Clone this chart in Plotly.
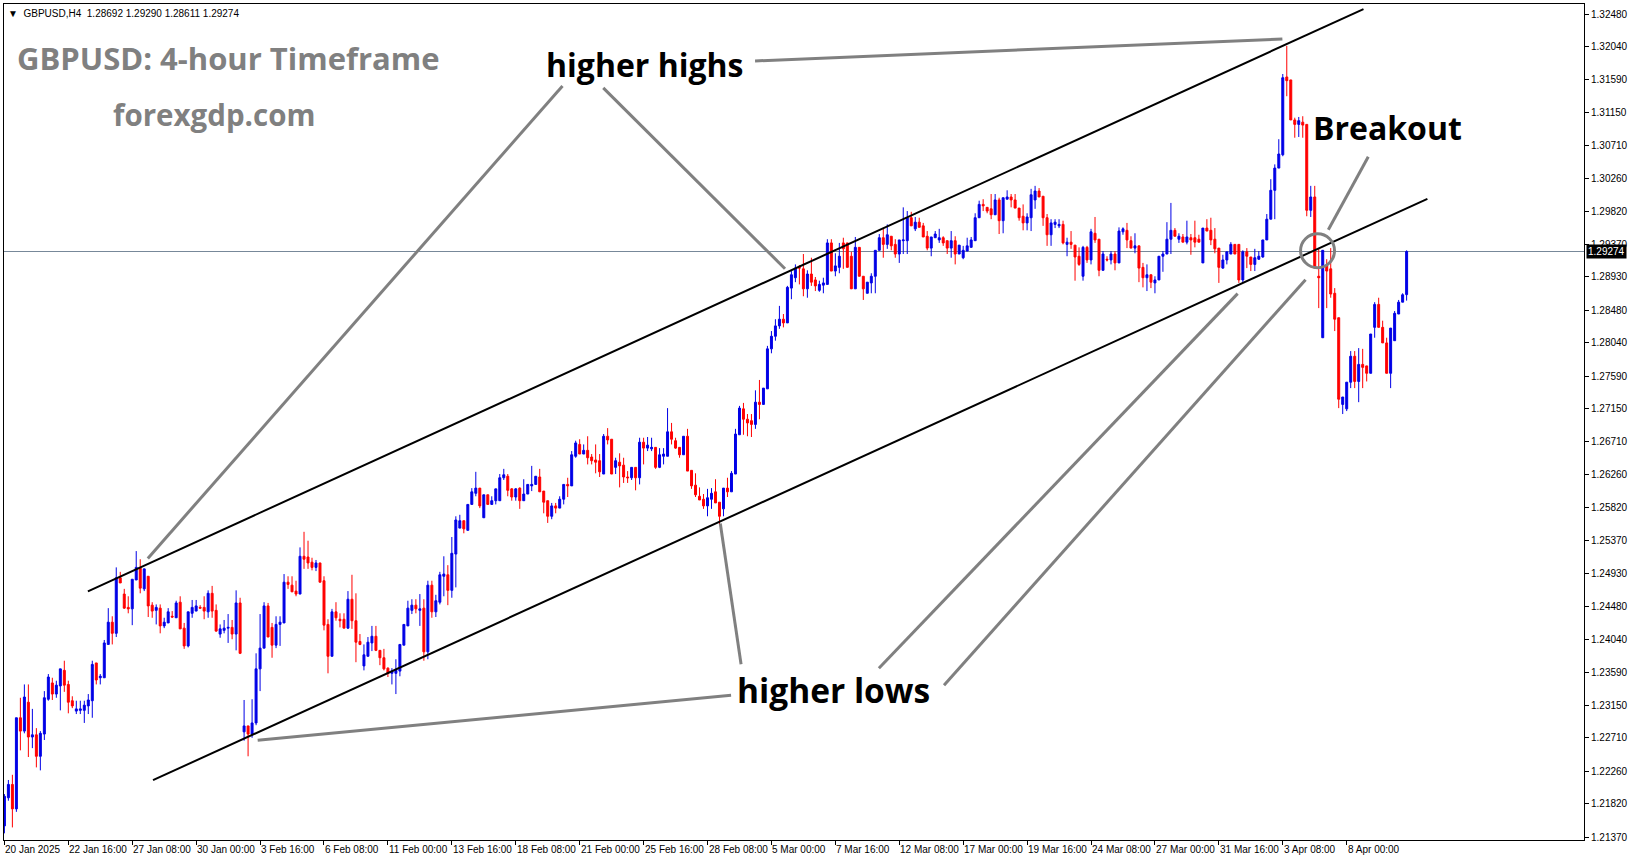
import plotly.graph_objects as go

# ---------------- data (GBPUSD H4) ----------------
open_ = [
1.2152,1.2190,1.2208,1.2175,1.2298,1.2280,1.2319,1.2272,1.2275,1.2246,
1.2276,1.2323,1.2345,1.2330,1.2341,1.2362,1.2343,1.2321,1.2307,1.2308,
1.2308,1.2314,1.2321,1.2372,1.2352,1.2352,1.2397,1.2427,1.2412,1.2487,
1.2465,1.2447,1.2445,1.2484,1.2500,1.2472,1.2489,1.2450,1.2443,1.2446,
1.2422,1.2426,1.2435,1.2433,1.2454,1.2419,1.2395,1.2439,1.2442,1.2447,
1.2447,1.2441,1.2466,1.2443,1.2411,1.2416,1.2419,1.2420,1.2411,1.2453,
1.2279,1.2287,1.2276,1.2291,1.2364,1.2392,1.2449,1.2420,1.2396,1.2424,
1.2426,1.2481,1.2477,1.2469,1.2465,1.2516,1.2515,1.2508,1.2501,1.2507,
1.2483,1.2424,1.2381,1.2441,1.2431,1.2431,1.2419,1.2458,1.2429,1.2401,
1.2368,1.2381,1.2399,1.2408,1.2389,1.2379,1.2365,1.2358,1.2358,1.2361,
1.2396,1.2422,1.2443,1.2450,1.2443,1.2446,1.2387,1.2477,1.2441,1.2454,
1.2489,1.2491,1.2470,1.2519,1.2554,1.2564,1.2551,1.2586,1.2601,1.2608,
1.2568,1.2599,1.2586,1.2591,1.2591,1.2622,1.2624,1.2607,1.2596,1.2608,
1.2591,1.2600,1.2611,1.2613,1.2623,1.2604,1.2591,1.2570,1.2584,1.2581,
1.2593,1.2613,1.2611,1.2651,1.2667,1.2654,1.2659,1.2650,1.2646,1.2645,
1.2627,1.2678,1.2674,1.2636,1.2643,1.2639,1.2623,1.2622,1.2636,1.2622,
1.2670,1.2662,1.2661,1.2663,1.2636,1.2651,1.2651,1.2684,1.2672,1.2663,
1.2653,1.2678,1.2632,1.2612,1.2597,1.2593,1.2584,1.2593,1.2603,1.2589,
1.2580,1.2608,1.2603,1.2627,1.2680,1.2715,1.2701,1.2699,1.2694,1.2724,
1.2721,1.2742,1.2796,1.2813,1.2827,1.2836,1.2831,1.2878,1.2892,1.2906,
1.2904,1.2877,1.2897,1.2889,1.2875,1.2882,1.2883,1.2939,1.2901,1.2906,
1.2939,1.2939,1.2921,1.2877,1.2933,1.2894,1.2871,1.2885,1.2894,1.2929,
1.2946,1.2937,1.2948,1.2937,1.2924,1.2942,1.2942,1.2973,1.2958,1.2967,
1.2962,1.2948,1.2932,1.2946,1.2943,1.2946,1.2942,1.2932,1.2942,1.2924,
1.2919,1.2928,1.2933,1.2942,1.2973,1.2991,1.2987,1.2985,1.2977,1.2997,
1.2969,1.2998,1.3001,1.2997,1.2986,1.2975,1.2966,1.2973,1.2997,1.3009,
1.3002,1.2973,1.2950,1.2964,1.2962,1.2964,1.2937,1.2940,1.2936,1.2921,
1.2894,1.2933,1.2916,1.2952,1.2944,1.2902,1.2917,1.2916,1.2924,1.2912,
1.2954,1.2956,1.2942,1.2932,1.2935,1.2906,1.2892,1.2896,1.2885,1.2889,
1.2921,1.2924,1.2944,1.2956,1.2944,1.2947,1.2940,1.2946,1.2946,1.2944,
1.2912,1.2959,1.2956,1.2944,1.2932,1.2905,1.2916,1.2924,1.2937,1.2937,
1.2889,1.2927,1.2920,1.2910,1.2917,1.2920,1.2943,1.2971,1.3010,1.3040,
1.3058,1.3163,1.3159,1.3105,1.3099,1.3102,1.3099,1.2983,1.3001,1.2894,
1.2811,1.2909,1.2904,1.2871,1.2838,1.2721,1.2715,1.2751,1.2786,1.2752,
1.2775,1.2773,1.2763,1.2825,1.2856,1.2825,1.2804,1.2763,1.2807,1.2843,
1.2859,1.28692]

high = [
1.2195,1.2214,1.2221,1.2298,1.2325,1.2343,1.2343,1.2310,1.2284,1.2280,
1.2334,1.2357,1.2352,1.2348,1.2364,1.2375,1.2348,1.2327,1.2321,1.2321,
1.2321,1.2330,1.2375,1.2372,1.2357,1.2403,1.2446,1.2435,1.2501,1.2495,
1.2472,1.2462,1.2485,1.2523,1.2512,1.2499,1.2489,1.2454,1.2451,1.2451,
1.2433,1.2446,1.2442,1.2456,1.2462,1.2426,1.2441,1.2457,1.2457,1.2450,
1.2462,1.2470,1.2476,1.2451,1.2424,1.2430,1.2438,1.2430,1.2470,1.2460,
1.2322,1.2287,1.2323,1.2385,1.2438,1.2454,1.2453,1.2426,1.2435,1.2435,
1.2492,1.2489,1.2489,1.2483,1.2528,1.2549,1.2537,1.2514,1.2511,1.2507,
1.2489,1.2431,1.2445,1.2454,1.2439,1.2439,1.2469,1.2491,1.2466,1.2411,
1.2397,1.2407,1.2422,1.2422,1.2389,1.2391,1.2366,1.2365,1.2377,1.2397,
1.2424,1.2456,1.2458,1.2458,1.2465,1.2458,1.2483,1.2483,1.2464,1.2495,
1.2516,1.2504,1.2542,1.2570,1.2572,1.2564,1.2586,1.2608,1.2630,1.2608,
1.2599,1.2599,1.2597,1.2607,1.2627,1.2634,1.2627,1.2608,1.2608,1.2609,
1.2620,1.2613,1.2638,1.2624,1.2634,1.2604,1.2591,1.2588,1.2588,1.2597,
1.2613,1.2622,1.2658,1.2672,1.2674,1.2667,1.2678,1.2654,1.2667,1.2654,
1.2681,1.2689,1.2674,1.2649,1.2655,1.2649,1.2631,1.2636,1.2636,1.2676,
1.2676,1.2677,1.2676,1.2663,1.2662,1.2662,1.2716,1.2696,1.2676,1.2663,
1.2678,1.2688,1.2632,1.2628,1.2609,1.2600,1.2607,1.2608,1.2620,1.2589,
1.2608,1.2622,1.2631,1.2688,1.2719,1.2723,1.2708,1.2708,1.2740,1.2754,
1.2743,1.2800,1.2820,1.2836,1.2854,1.2843,1.2881,1.2901,1.2910,1.2909,
1.2924,1.2902,1.2919,1.2893,1.2888,1.2892,1.2944,1.2944,1.2925,1.2939,
1.2946,1.2939,1.2927,1.2947,1.2933,1.2894,1.2886,1.2898,1.2929,1.2951,
1.2959,1.2964,1.2948,1.2944,1.2943,1.2987,1.2982,1.2981,1.2974,1.2973,
1.2966,1.2955,1.2947,1.2955,1.2958,1.2948,1.2942,1.2955,1.2948,1.2936,
1.2935,1.2946,1.2947,1.2979,1.2996,1.2998,1.2987,1.3005,1.3005,1.3000,
1.3000,1.3010,1.3005,1.3005,1.2986,1.2991,1.2979,1.3012,1.3016,1.3013,
1.3002,1.2978,1.2971,1.2971,1.2971,1.2969,1.2946,1.2955,1.2936,1.2933,
1.2935,1.2935,1.2958,1.2974,1.2944,1.2928,1.2921,1.2928,1.2928,1.2960,
1.2960,1.2966,1.2948,1.2952,1.2935,1.2912,1.2910,1.2896,1.2894,1.2921,
1.2928,1.2967,1.2993,1.2959,1.2952,1.2951,1.2969,1.2951,1.2969,1.2950,
1.2959,1.2971,1.2973,1.2959,1.2932,1.2923,1.2927,1.2940,1.2937,1.2937,
1.2929,1.2932,1.2920,1.2931,1.2928,1.2943,1.2978,1.3025,1.3045,1.3079,
1.3167,1.3205,1.3159,1.3108,1.3109,1.3110,1.3099,1.3016,1.3016,1.2932,
1.2929,1.2917,1.2932,1.2878,1.2838,1.2731,1.2751,1.2793,1.2793,1.2797,
1.2796,1.2773,1.2816,1.2859,1.2865,1.2834,1.2811,1.2824,1.2847,1.2862,
1.2871,1.29290]

low = [
1.2142,1.2186,1.2150,1.2171,1.2254,1.2277,1.2245,1.2257,1.2231,1.2227,
1.2268,1.2321,1.2322,1.2325,1.2308,1.2333,1.2304,1.2311,1.2303,1.2303,
1.2291,1.2303,1.2298,1.2343,1.2343,1.2352,1.2397,1.2397,1.2407,1.2480,
1.2445,1.2439,1.2423,1.2484,1.2466,1.2469,1.2434,1.2433,1.2424,1.2412,
1.2419,1.2426,1.2433,1.2433,1.2418,1.2391,1.2393,1.2433,1.2442,1.2446,
1.2431,1.2433,1.2433,1.2414,1.2406,1.2412,1.2399,1.2404,1.2389,1.2384,
1.2267,1.2246,1.2271,1.2288,1.2334,1.2392,1.2407,1.2379,1.2392,1.2395,
1.2426,1.2472,1.2468,1.2462,1.2465,1.2499,1.2499,1.2497,1.2496,1.2481,
1.2416,1.2358,1.2381,1.2429,1.2420,1.2419,1.2418,1.2418,1.2373,1.2396,
1.2362,1.2381,1.2388,1.2388,1.2369,1.2362,1.2353,1.2343,1.2330,1.2354,
1.2396,1.2422,1.2438,1.2439,1.2422,1.2375,1.2377,1.2433,1.2434,1.2451,
1.2462,1.2450,1.2460,1.2474,1.2554,1.2547,1.2551,1.2586,1.2597,1.2581,
1.2568,1.2586,1.2586,1.2586,1.2591,1.2619,1.2597,1.2591,1.2591,1.2580,
1.2591,1.2600,1.2604,1.2613,1.2603,1.2574,1.2561,1.2566,1.2574,1.2581,
1.2586,1.2596,1.2611,1.2649,1.2654,1.2654,1.2640,1.2640,1.2628,1.2623,
1.2627,1.2667,1.2627,1.2627,1.2609,1.2615,1.2615,1.2619,1.2605,1.2613,
1.2640,1.2658,1.2658,1.2634,1.2635,1.2640,1.2651,1.2667,1.2661,1.2649,
1.2653,1.2631,1.2607,1.2596,1.2592,1.2580,1.2570,1.2580,1.2588,1.2559,
1.2570,1.2596,1.2603,1.2627,1.2680,1.2680,1.2678,1.2677,1.2688,1.2701,
1.2721,1.2742,1.2790,1.2807,1.2823,1.2825,1.2831,1.2863,1.2886,1.2883,
1.2867,1.2865,1.2881,1.2874,1.2873,1.2871,1.2883,1.2901,1.2894,1.2898,
1.2904,1.2906,1.2877,1.2877,1.2894,1.2862,1.2871,1.2871,1.2871,1.2929,
1.2919,1.2931,1.2929,1.2919,1.2912,1.2924,1.2924,1.2962,1.2955,1.2960,
1.2947,1.2929,1.2921,1.2946,1.2939,1.2935,1.2924,1.2919,1.2910,1.2924,
1.2917,1.2928,1.2933,1.2942,1.2973,1.2982,1.2979,1.2971,1.2977,1.2951,
1.2952,1.2998,1.2987,1.2986,1.2969,1.2956,1.2956,1.2955,1.2985,1.3001,
1.2962,1.2935,1.2935,1.2959,1.2959,1.2937,1.2921,1.2931,1.2888,1.2908,
1.2888,1.2912,1.2910,1.2939,1.2894,1.2902,1.2914,1.2910,1.2902,1.2912,
1.2950,1.2932,1.2932,1.2925,1.2886,1.2879,1.2874,1.2878,1.2871,1.2889,
1.2900,1.2924,1.2924,1.2948,1.2939,1.2940,1.2937,1.2923,1.2933,1.2940,
1.2912,1.2955,1.2936,1.2925,1.2885,1.2904,1.2910,1.2924,1.2924,1.2885,
1.2885,1.2905,1.2901,1.2901,1.2916,1.2919,1.2943,1.2971,1.2971,1.3040,
1.3056,1.3137,1.3105,1.3081,1.3082,1.3081,1.2975,1.2974,1.2905,1.2851,
1.2811,1.2851,1.2865,1.2820,1.2716,1.2708,1.2712,1.2743,1.2743,1.2724,
1.2743,1.2752,1.2763,1.2811,1.2825,1.2804,1.2763,1.2743,1.2807,1.2843,
1.2859,1.28611]

close = [
1.2192,1.2208,1.2175,1.2298,1.2280,1.2326,1.2272,1.2275,1.2246,1.2277,
1.2325,1.2353,1.2330,1.2342,1.2364,1.2342,1.2319,1.2314,1.2310,1.2310,
1.2315,1.2322,1.2370,1.2349,1.2354,1.2399,1.2427,1.2412,1.2487,1.2480,
1.2446,1.2445,1.2485,1.2501,1.2473,1.2499,1.2449,1.2442,1.2447,1.2422,
1.2427,1.2441,1.2434,1.2453,1.2418,1.2395,1.2441,1.2447,1.2449,1.2446,
1.2442,1.2466,1.2442,1.2415,1.2418,1.2419,1.2420,1.2411,1.2453,1.2385,
1.2287,1.2276,1.2291,1.2364,1.2392,1.2449,1.2407,1.2396,1.2424,1.2427,
1.2481,1.2478,1.2468,1.2465,1.2516,1.2512,1.2507,1.2501,1.2507,1.2481,
1.2423,1.2381,1.2441,1.2433,1.2429,1.2419,1.2458,1.2429,1.2400,1.2397,
1.2383,1.2400,1.2408,1.2389,1.2379,1.2364,1.2358,1.2361,1.2362,1.2397,
1.2424,1.2446,1.2450,1.2445,1.2445,1.2387,1.2477,1.2441,1.2456,1.2491,
1.2492,1.2470,1.2520,1.2565,1.2564,1.2553,1.2586,1.2603,1.2608,1.2584,
1.2599,1.2586,1.2591,1.2607,1.2622,1.2626,1.2605,1.2596,1.2607,1.2591,
1.2600,1.2613,1.2613,1.2624,1.2603,1.2589,1.2570,1.2584,1.2581,1.2593,
1.2613,1.2611,1.2653,1.2669,1.2654,1.2659,1.2649,1.2645,1.2643,1.2630,
1.2678,1.2673,1.2627,1.2645,1.2638,1.2623,1.2622,1.2636,1.2622,1.2670,
1.2662,1.2666,1.2663,1.2636,1.2653,1.2654,1.2684,1.2674,1.2662,1.2653,
1.2678,1.2631,1.2611,1.2599,1.2592,1.2584,1.2595,1.2601,1.2588,1.2570,
1.2608,1.2603,1.2628,1.2681,1.2716,1.2701,1.2696,1.2694,1.2724,1.2721,
1.2743,1.2796,1.2813,1.2827,1.2836,1.2831,1.2879,1.2896,1.2905,1.2905,
1.2877,1.2897,1.2886,1.2881,1.2883,1.2885,1.2939,1.2901,1.2908,1.2921,
1.2931,1.2906,1.2877,1.2933,1.2894,1.2877,1.2886,1.2894,1.2929,1.2946,
1.2937,1.2950,1.2935,1.2924,1.2943,1.2943,1.2973,1.2962,1.2967,1.2960,
1.2947,1.2932,1.2947,1.2951,1.2946,1.2939,1.2932,1.2942,1.2924,1.2936,
1.2929,1.2935,1.2943,1.2973,1.2991,1.2989,1.2982,1.2977,1.2997,1.2969,
1.3000,1.3001,1.2997,1.2986,1.2973,1.2966,1.2974,1.3004,1.3009,1.3001,
1.2973,1.2950,1.2966,1.2967,1.2964,1.2939,1.2940,1.2937,1.2920,1.2910,
1.2933,1.2916,1.2954,1.2943,1.2902,1.2924,1.2916,1.2924,1.2912,1.2955,
1.2958,1.2943,1.2932,1.2935,1.2905,1.2892,1.2896,1.2886,1.2889,1.2921,
1.2924,1.2944,1.2956,1.2948,1.2948,1.2940,1.2947,1.2943,1.2940,1.2940,
1.2959,1.2955,1.2943,1.2931,1.2906,1.2916,1.2927,1.2937,1.2924,1.2889,
1.2927,1.2921,1.2910,1.2919,1.2921,1.2943,1.2971,1.3010,1.3040,1.3059,
1.3162,1.3158,1.3105,1.3099,1.3104,1.3098,1.2983,1.3001,1.2905,1.2892,
1.2929,1.2901,1.2870,1.2836,1.2728,1.2731,1.2751,1.2786,1.2752,1.2775,
1.2771,1.2763,1.2816,1.2856,1.2825,1.2804,1.2763,1.2824,1.2844,1.2859,
1.2869,1.29274]

# time axis labels (every 16 four-hour bars)
date_tick_bars = [0,16,32,48,64,80,96,112,128,144,160,176,192,208,224,240,256,272,288,304,320,336]
date_labels = ["20 Jan 2025","22 Jan 16:00","27 Jan 08:00","30 Jan 00:00","3 Feb 16:00",
               "6 Feb 08:00","11 Feb 00:00","13 Feb 16:00","18 Feb 08:00","21 Feb 00:00",
               "25 Feb 16:00","28 Feb 08:00","5 Mar 00:00","7 Mar 16:00","12 Mar 08:00",
               "17 Mar 00:00","19 Mar 16:00","24 Mar 08:00","27 Mar 00:00","31 Mar 16:00",
               "3 Apr 08:00","8 Apr 00:00"]

price_ticks = [1.32480,1.32040,1.31590,1.31150,1.30710,1.30260,1.29820,1.29370,1.28930,
               1.28480,1.28040,1.27590,1.27150,1.26710,1.26260,1.25820,1.25370,1.24930,
               1.24480,1.24040,1.23590,1.23150,1.22710,1.22260,1.21820,1.21370]

last_price = 1.29274

# channel lines (bar index, price)
upper_x = [20.9, 340.2]
upper_y = [1.24687, 1.32547]
lower_x = [37.2, 356.2]
lower_y = [1.22138, 1.29985]

# grey pointer lines (bar index pairs, price pairs)
pointer_x = [[187.9, 319.9], [139.7, 35.9], [149.9, 195.4],
             [181.9, 63.4], [184.4, 179.2], [218.9, 308.7], [235.2, 325.7],
             [341.4, 331.4]]
pointer_y = [[1.31846, 1.32143], [1.31509, 1.25131], [1.31482, 1.29042],
             [1.23284, 1.22678], [1.23702, 1.25603], [1.23648, 1.28705], [1.23419, 1.28893],
             [1.30552, 1.29567]]

# breakout circle (bar range, price range)
circle_x = [324.45, 332.95]
circle_y = [1.29055, 1.29513]

# text labels (text, bar index, price, font size)
labels = [("higher highs", 160.2, 1.31792, 32), ("Breakout", 346.2, 1.30943, 32),
          ("higher lows", 207.6, 1.23352, 33.5)]

bars = list(range(len(close)))

BLUE = "#0000E6"
RED = "#FF0000"

fig = go.Figure()
fig.add_trace(go.Candlestick(
    x=bars, open=open_, high=high, low=low, close=close,
    increasing=dict(line=dict(color=BLUE, width=1), fillcolor=BLUE),
    decreasing=dict(line=dict(color=RED, width=1), fillcolor=RED),
    whiskerwidth=0, hoverinfo="skip", showlegend=False))

fig.add_trace(go.Scatter(x=upper_x, y=upper_y, mode="lines",
                         line=dict(color="black", width=2), hoverinfo="skip", showlegend=False))
fig.add_trace(go.Scatter(x=lower_x, y=lower_y, mode="lines",
                         line=dict(color="black", width=2), hoverinfo="skip", showlegend=False))
for px_, py_ in zip(pointer_x, pointer_y):
    fig.add_trace(go.Scatter(x=px_, y=py_, mode="lines",
                             line=dict(color="#808080", width=3), hoverinfo="skip", showlegend=False))

shapes = [
    dict(type="line", xref="paper", x0=0, x1=1, yref="y", y0=last_price, y1=last_price,
         line=dict(color="#778899", width=1), layer="below"),
    dict(type="circle", xref="x", yref="y", x0=circle_x[0], x1=circle_x[1],
         y0=circle_y[0], y1=circle_y[1], line=dict(color="#808080", width=3)),
]

annotations = []
for txt, bx, py, fs in labels:
    annotations.append(dict(x=bx, y=py, xref="x", yref="y", text=txt, showarrow=False,
                            font=dict(family="Open Sans", size=fs, color="black", weight="bold"),
                            xanchor="center", yanchor="middle"))
annotations.append(dict(x=56.0, y=1.31886, xref="x", yref="y", text="GBPUSD: 4-hour Timeframe",
                        showarrow=False, xanchor="center", yanchor="middle",
                        font=dict(family="Open Sans", size=31, color="#808080", weight="bold")))
annotations.append(dict(x=52.4, y=1.31118, xref="x", yref="y", text="forexgdp.com",
                        showarrow=False, xanchor="center", yanchor="middle",
                        font=dict(family="Open Sans", size=29.5, color="#808080", weight="bold")))
annotations.append(dict(x=0.0, y=1.0, xref="paper", yref="paper", xanchor="left", yanchor="top",
                        xshift=2, yshift=-2, showarrow=False,
                        text="▼  GBPUSD,H4  1.28692 1.29290 1.28611 1.29274",
                        font=dict(family="Liberation Sans", size=10, color="black")))
for b, lab in zip(date_tick_bars, date_labels):
    annotations.append(dict(x=b, y=0, xref="x", yref="paper", text=lab, showarrow=False,
                            xanchor="left", yanchor="top", yshift=-2, xshift=-1,
                            font=dict(family="Liberation Sans", size=10, color="black")))
annotations.append(dict(x=1, y=last_price, xref="paper", yref="y", text="1.29274", showarrow=False,
                        xanchor="left", yanchor="middle", xshift=2, bgcolor="black", borderpad=1,
                        font=dict(family="Liberation Sans", size=10, color="white")))

fig.update_layout(
    width=1631, height=861, autosize=False,
    margin=dict(l=3, r=46, t=3, b=21),
    paper_bgcolor="white", plot_bgcolor="white",
    showlegend=False, hovermode=False,
    shapes=shapes, annotations=annotations,
    xaxis=dict(range=[-0.1, 395.4], showgrid=False, zeroline=False,
               rangeslider=dict(visible=False),
               showline=True, linecolor="black", linewidth=1, mirror=True,
               tickmode="array", tickvals=date_tick_bars, ticktext=[""] * len(date_tick_bars),
               ticks="outside", ticklen=4, tickcolor="black"),
    yaxis=dict(range=[1.2133, 1.32615], side="right", showgrid=False, zeroline=False,
               showline=True, linecolor="black", linewidth=1, mirror=True,
               tickmode="array", tickvals=price_ticks, ticktext=[f"{v:.5f}" for v in price_ticks],
               ticks="outside", ticklen=4, tickcolor="black",
               tickfont=dict(family="Liberation Sans", size=10, color="black")),
)

fig.write_html("out.html", config={"displayModeBar": False},
               post_script="document.body.style.margin='0';document.body.style.overflow='hidden';")
